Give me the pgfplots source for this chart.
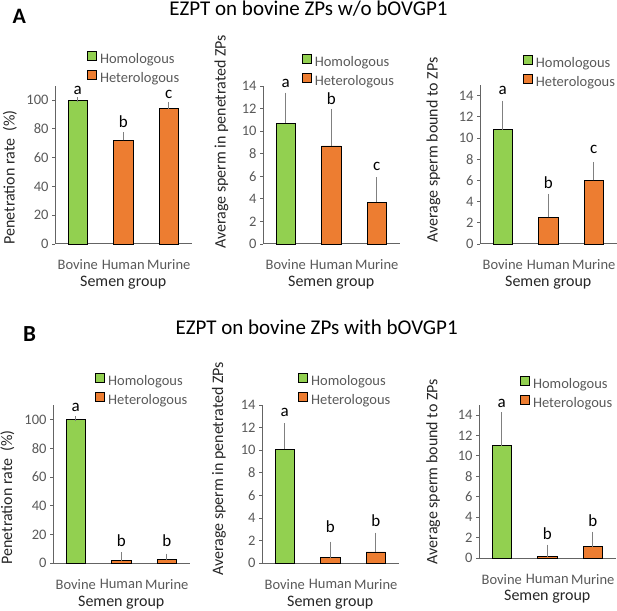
\documentclass[border=0pt]{standalone}
\usepackage{fontspec}
\setmainfont{Carlito}
\usepackage{pgfplots}
\pgfplotsset{compat=1.18}
\definecolor{cgreen}{RGB}{146,208,80}
\definecolor{corange}{RGB}{237,125,49}
\definecolor{tickgray}{RGB}{89,89,89}
\definecolor{axgray}{RGB}{100,100,100}
\definecolor{errgray}{RGB}{128,128,128}
\newcommand{\fs}[1]{\fontsize{#1bp}{#1bp}\selectfont}
\pgfplotsset{
  panel/.style={
    scale only axis, width=136.5bp, clip=false,
    axis x line*=bottom, axis y line*=left,
    axis line style={axgray, line width=1bp},
    xmin=-0.5, xmax=2.5, ymin=0,
    xtick={0,1,2}, xticklabels={Bovine,Human,Murine},
    xtick style={draw=none},
    tick align=outside,
    ytick style={axgray, line width=0.8bp},
    major tick length=3bp,
    /pgf/number format/assume math mode=true,
    tick label style={font=\fs{14.5}, text=tickgray},
    xticklabel style={yshift=-9.5bp},
    xlabel={Semen group},
    xlabel style={font=\fs{16}, text=black!85, at={(axis description cs:0.5,0)}, anchor=base, yshift=-42.7bp},
    ylabel style={font=\fs{16}, text=black!85, anchor=center},
    legend cell align=left,
    legend style={anchor=north west, draw=none, fill=none, inner sep=0pt,
      column sep=3.3bp, row sep=0pt, font=\fs{14.5}, text=tickgray,
      nodes={inner xsep=0bp, inner ysep=2.2bp, text height=10bp, text depth=4bp}},
    legend image code/.code={\draw[##1, line width=0.6bp] (0bp,0bp) rectangle (9bp,9.2bp);},
  },
  homo/.style={ybar, bar width=0.42, bar shift=0pt, draw=black, line width=0.6bp, fill=cgreen,
    error bars/.cd, y dir=plus, y explicit,
    error bar style={errgray, line width=0.9bp},
    error mark options={errgray, line width=0.9bp, mark size=2.5bp}},
  hetero/.style={ybar, bar width=0.42, bar shift=0pt, draw=black, line width=0.6bp, fill=corange,
    error bars/.cd, y dir=plus, y explicit,
    error bar style={errgray, line width=0.9bp},
    error mark options={errgray, line width=0.9bp, mark size=2.5bp}},
  letters/.style={forget plot, draw=none, mark=none, nodes near coords,
    point meta=explicit symbolic,
    nodes near coords style={anchor=base, font=\fs{17}, text=black, inner sep=0pt}},
}
\begin{document}
\begin{tikzpicture}[x=1bp,y=1bp]
\useasboundingbox (0,0) rectangle (617,611);
\node[anchor=base west, font=\bfseries\fs{22}] at (9,587.7) {A};
\node[anchor=base, font=\fs{21}] at (308.5,595.3) {EZPT on bovine ZPs w/o bOVGP1};
\node[anchor=base west, font=\bfseries\fs{23}] at (19.5,269.3) {B};
\node[anchor=base, font=\fs{21}] at (316.7,276) {EZPT on bovine ZPs with bOVGP1};

% ---- A1
\begin{axis}[panel, at={(55bp,367bp)}, anchor=south west, height=158.4bp,
  ymax=110, ytick={0,20,...,100},
  ylabel={Penetration rate\ \ (\%)},
  ylabel style={at={(axis description cs:-0.33,0.42)}},
  legend style={at={(axis description cs:0.234,1.218)}}]
\addplot[homo] coordinates {(0,100) +- (0,0.3)};
\addlegendentry{Homologous}
\addplot[hetero] coordinates {(1,72) +- (0,4) (2,94) +- (0,3)};
\addlegendentry{Heterologous}
\addplot[letters] coordinates {(0,103.5)[a] (1,80.8)[b] (2,100.7)[c]};
\end{axis}

% ---- A2
\begin{axis}[panel, at={(263bp,367bp)}, anchor=south west, height=158bp,
  ymax=14, ytick={0,2,...,14},
  ylabel={Average sperm in penetrated ZPs},
  ylabel style={at={(axis description cs:-0.304,0.646)}},
  legend style={at={(axis description cs:0.2835,1.202)}}]
\addplot[homo] coordinates {(0,10.7) +- (0,2.5)};
\addlegendentry{Homologous}
\addplot[hetero] coordinates {(1,8.7) +- (0,3.05) (2,3.7) +- (0,2.0)};
\addlegendentry{Heterologous}
\addplot[letters] coordinates {(0,13.88)[a] (1,12.37)[b] (2,6.55)[c]};
\end{axis}

% ---- A3
\begin{axis}[panel, at={(480bp,367bp)}, anchor=south west, height=159bp,
  ymax=15, ytick={0,2,...,14},
  ylabel={Average sperm bound to ZPs},
  ylabel style={at={(axis description cs:-0.342,0.59)}},
  legend style={at={(axis description cs:0.313,1.19)}}]
\addplot[homo] coordinates {(0,10.8) +- (0,2.5)};
\addlegendentry{Homologous}
\addplot[hetero] coordinates {(1,2.5) +- (0,2.0) (2,6.0) +- (0,1.5)};
\addlegendentry{Heterologous}
\addplot[letters] coordinates {(0,14.06)[a] (1,5.25)[b] (2,8.49)[c]};
\end{axis}

% ---- B1
\begin{axis}[panel, at={(53bp,47.7bp)}, anchor=south west, height=158.3bp,
  ymax=110, ytick={0,20,...,100},
  ylabel={Penetration rate\ \ (\%)},
  ylabel style={at={(axis description cs:-0.335,0.416)}},
  legend style={at={(axis description cs:0.308,1.2015)}}]
\addplot[homo] coordinates {(0,100) +- (0,0.3)};
\addlegendentry{Homologous}
\addplot[hetero] coordinates {(1,1.8) +- (0,4) (2,2.6) +- (0,2.4)};
\addlegendentry{Heterologous}
\addplot[letters] coordinates {(0,105.3)[a] (1,11.5)[b] (2,11.5)[b]};
\end{axis}

% ---- B2
\begin{axis}[panel, at={(262bp,47.7bp)}, anchor=south west, height=158.3bp,
  ymax=14, ytick={0,2,...,14},
  ylabel={Average sperm in penetrated ZPs},
  ylabel style={at={(axis description cs:-0.315,0.596)}},
  legend style={at={(axis description cs:0.264,1.2015)}}]
\addplot[homo] coordinates {(0,10.1) +- (0,2.07)};
\addlegendentry{Homologous}
\addplot[hetero] coordinates {(1,0.5) +- (0,1.2) (2,1.0) +- (0,1.5)};
\addlegendentry{Heterologous}
\addplot[letters] coordinates {(0,12.96)[a] (1,2.74)[b] (2,3.24)[b]};
\end{axis}

% ---- B3
\begin{axis}[panel, at={(479bp,52.7bp)}, anchor=south west, height=153.6bp,
  ymax=15, ytick={0,2,...,14},
  ylabel={Average sperm bound to ZPs},
  ylabel style={at={(axis description cs:-0.335,0.564)}},
  legend style={at={(axis description cs:0.30,1.188)}}]
\addplot[homo] coordinates {(0,11.0) +- (0,3.0)};
\addlegendentry{Homologous}
\addplot[hetero] coordinates {(1,0.15) +- (0,0.95) (2,1.15) +- (0,1.2)};
\addlegendentry{Heterologous}
\addplot[letters] coordinates {(0,14.7)[a] (1,1.86)[b] (2,3.15)[b]};
\end{axis}
\end{tikzpicture}
\end{document}
